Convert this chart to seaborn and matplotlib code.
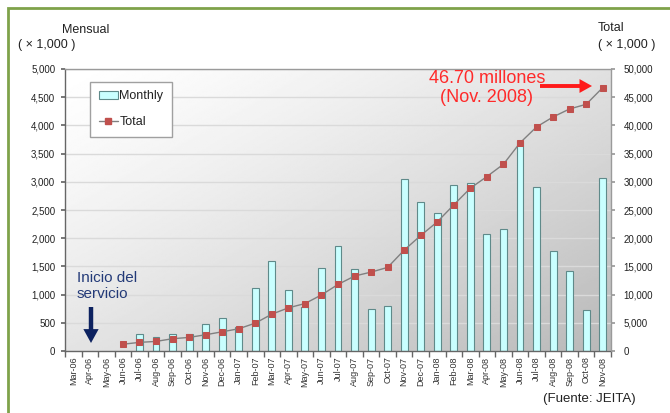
import numpy as np
import pandas as pd
import matplotlib.pyplot as plt
import seaborn as sns
from matplotlib.patches import Patch, Rectangle
from matplotlib.lines import Line2D
from matplotlib.ticker import FuncFormatter, MultipleLocator

months = ["Mar-06", "Apr-06", "May-06", "Jun-06", "Jul-06", "Aug-06", "Sep-06", "Oct-06",
          "Nov-06", "Dec-06", "Jan-07", "Feb-07", "Mar-07", "Apr-07", "May-07", "Jun-07",
          "Jul-07", "Aug-07", "Sep-07", "Oct-07", "Nov-07", "Dec-07", "Jan-08", "Feb-08",
          "Mar-08", "Apr-08", "May-08", "Jun-08", "Jul-08", "Aug-08", "Sep-08", "Oct-08",
          "Nov-08"]
nan = np.nan
monthly = [nan, nan, nan, nan, 310, 250, 310, 310, 480, 580,
           430, 1120, 1600, 1090, 780, 1480, 1860, 1460, 750, 800, 3050, 2640,
           2450, 2940, 2980, 2070, 2170, 3730, 2900, 1770, 1420, 730, 3060]
total = [nan, nan, nan, 1200, 1530, 1700, 2180, 2410, 2880, 3410,
         3940, 4940, 6530, 7650, 8410, 9940, 11800, 13290, 13990, 14820, 17890, 20480,
         22900, 25920, 28870, 30930, 33120, 36900, 39730, 41500, 42920, 43740, 46700]

df = pd.DataFrame({"month": months, "monthly": monthly, "total": total})
df["pos"] = np.arange(len(df))

sns.set_theme(style="white")
plt.rcParams["font.family"] = ["Liberation Sans", "DejaVu Sans"]

W, H = 670, 413
fig = plt.figure(figsize=(W / 100, H / 100), dpi=100)
ax = fig.add_axes([65 / W, 1 - 351 / H, (611 - 65) / W, (351 - 69) / H])

# gradient background (white top-left -> grey bottom-right)
xx, yy = np.meshgrid(np.linspace(0, 1, 300), np.linspace(0, 1, 200))
g = np.clip((xx * 1.1 + yy) / 2.1, 0, 1)
shade = 1 - 0.28 * g ** 1.3
ax.imshow(shade, extent=[0, 1, 0, 1], transform=ax.transAxes, origin="upper",
          cmap="gray", vmin=0, vmax=1, aspect="auto", zorder=0)

sns.barplot(data=df, x="month", y="monthly", order=months, ax=ax, color="#c9ffff",
            saturation=1, width=0.42, edgecolor="#5f8a8a", linewidth=0.8,
            errorbar=None, zorder=2)

ax.set_xlim(-0.5, len(months) - 0.5)
ax.set_ylim(0, 5000)
ax.yaxis.set_major_locator(MultipleLocator(500))
ax.yaxis.set_major_formatter(FuncFormatter(lambda v, p: f"{int(v):,}"))
ax.grid(axis="y", color="#dadada", lw=1)
ax.set_axisbelow(True)
for im in ax.images:
    im.set_zorder(0)
for s in ax.spines.values():
    s.set_color("#9a9a9a")
    s.set_linewidth(1)
ax.spines["left"].set_color("#666666")
ax.spines["bottom"].set_color("#666666")
ax.set_xlabel("")
ax.set_ylabel("")
ax.set_xticks(df["pos"])
ax.set_xticklabels(months, rotation=90, fontsize=6.5, color="#333333")
ax.set_xticks(np.arange(-0.5, len(months), 1), minor=True)
ax.tick_params(axis="x", which="major", length=0, pad=4)
ax.tick_params(axis="x", which="minor", length=4, color="#666666", direction="out", bottom=True)
ax.tick_params(axis="y", length=3, color="#666666", left=True, labelsize=7, labelcolor="#222222", pad=4)

ax2 = ax.twinx()
sns.lineplot(data=df, x="pos", y="total", ax=ax2, color="#808080", lw=1,
             marker="s", markersize=4, markerfacecolor="#c0504d", markeredgecolor="#c0504d",
             zorder=3)
ax2.set_ylim(0, 50000)
ax2.set_xlim(-0.5, len(months) - 0.5)
ax2.yaxis.set_major_locator(MultipleLocator(5000))
ax2.yaxis.set_major_formatter(FuncFormatter(lambda v, p: f"{int(v):,}"))
ax2.tick_params(axis="y", length=3, color="#9a9a9a", right=True, labelsize=7, labelcolor="#222222", pad=6)
ax2.set_ylabel("")
ax2.set_xlabel("")
for s in ax2.spines.values():
    s.set_visible(False)

handles = [Patch(facecolor="#c9ffff", edgecolor="#5f8a8a", lw=0.8),
           Line2D([], [], color="#808080", lw=1, marker="s", markersize=4,
                  markerfacecolor="#c0504d", markeredgecolor="#c0504d")]
leg = ax2.legend(handles, ["Monthly", "Total"], loc="upper left",
                 bbox_to_anchor=(0.046, 0.955), fontsize=9, frameon=True,
                 fancybox=False, edgecolor="#a0a0a0", framealpha=1,
                 borderpad=0.7, labelspacing=1.1, handlelength=1.5, handletextpad=0.15,
                 borderaxespad=0)
leg.get_frame().set_linewidth(1)
for t in leg.get_texts():
    t.set_color("#222222")

# axis titles
fig.text(62 / W, 1 - 30 / H, "Mensual", fontsize=9, va="center", color="#222222")
fig.text(18 / W, 1 - 45 / H, "( × 1,000 )", fontsize=9, va="center", color="#222222")
fig.text(598 / W, 1 - 28 / H, "Total", fontsize=9, va="center", color="#222222")
fig.text(598 / W, 1 - 45 / H, "( × 1,000 )", fontsize=9, va="center", color="#222222")

# annotations
fig.text(487 / W, 1 - 88 / H, "46.70 millones\n(Nov. 2008)", fontsize=13,
         color="#ff2a2a", ha="center", va="center", linespacing=1.1)
ax2.annotate("", xy=(592 / W, 1 - 86 / H), xytext=(540 / W, 1 - 86 / H),
             xycoords="figure fraction", textcoords="figure fraction",
             arrowprops=dict(width=2.8, headwidth=10, headlength=9, color="#ff1a1a", lw=0))
fig.text(77 / W, 1 - 286 / H, "Inicio del\nservicio", fontsize=11,
         color="#233a78", ha="left", va="center", linespacing=1.25)
ax2.annotate("", xy=(91 / W, 1 - 343 / H), xytext=(91 / W, 1 - 307 / H),
             xycoords="figure fraction", textcoords="figure fraction",
             arrowprops=dict(width=3.2, headwidth=11, headlength=10, color="#0d2260", lw=0))

fig.text(636 / W, 1 - 399 / H, "(Fuente: JEITA)", fontsize=9.5, ha="right",
         va="center", color="#222222")

# green frame
fig.patches.append(Rectangle((8 / W, -0.05), 1.2, 1 - 8 / H + 0.05,
                             transform=fig.transFigure, fill=False,
                             edgecolor="#7fa24a", lw=2, figure=fig))

fig.savefig("out.png", dpi=100)
